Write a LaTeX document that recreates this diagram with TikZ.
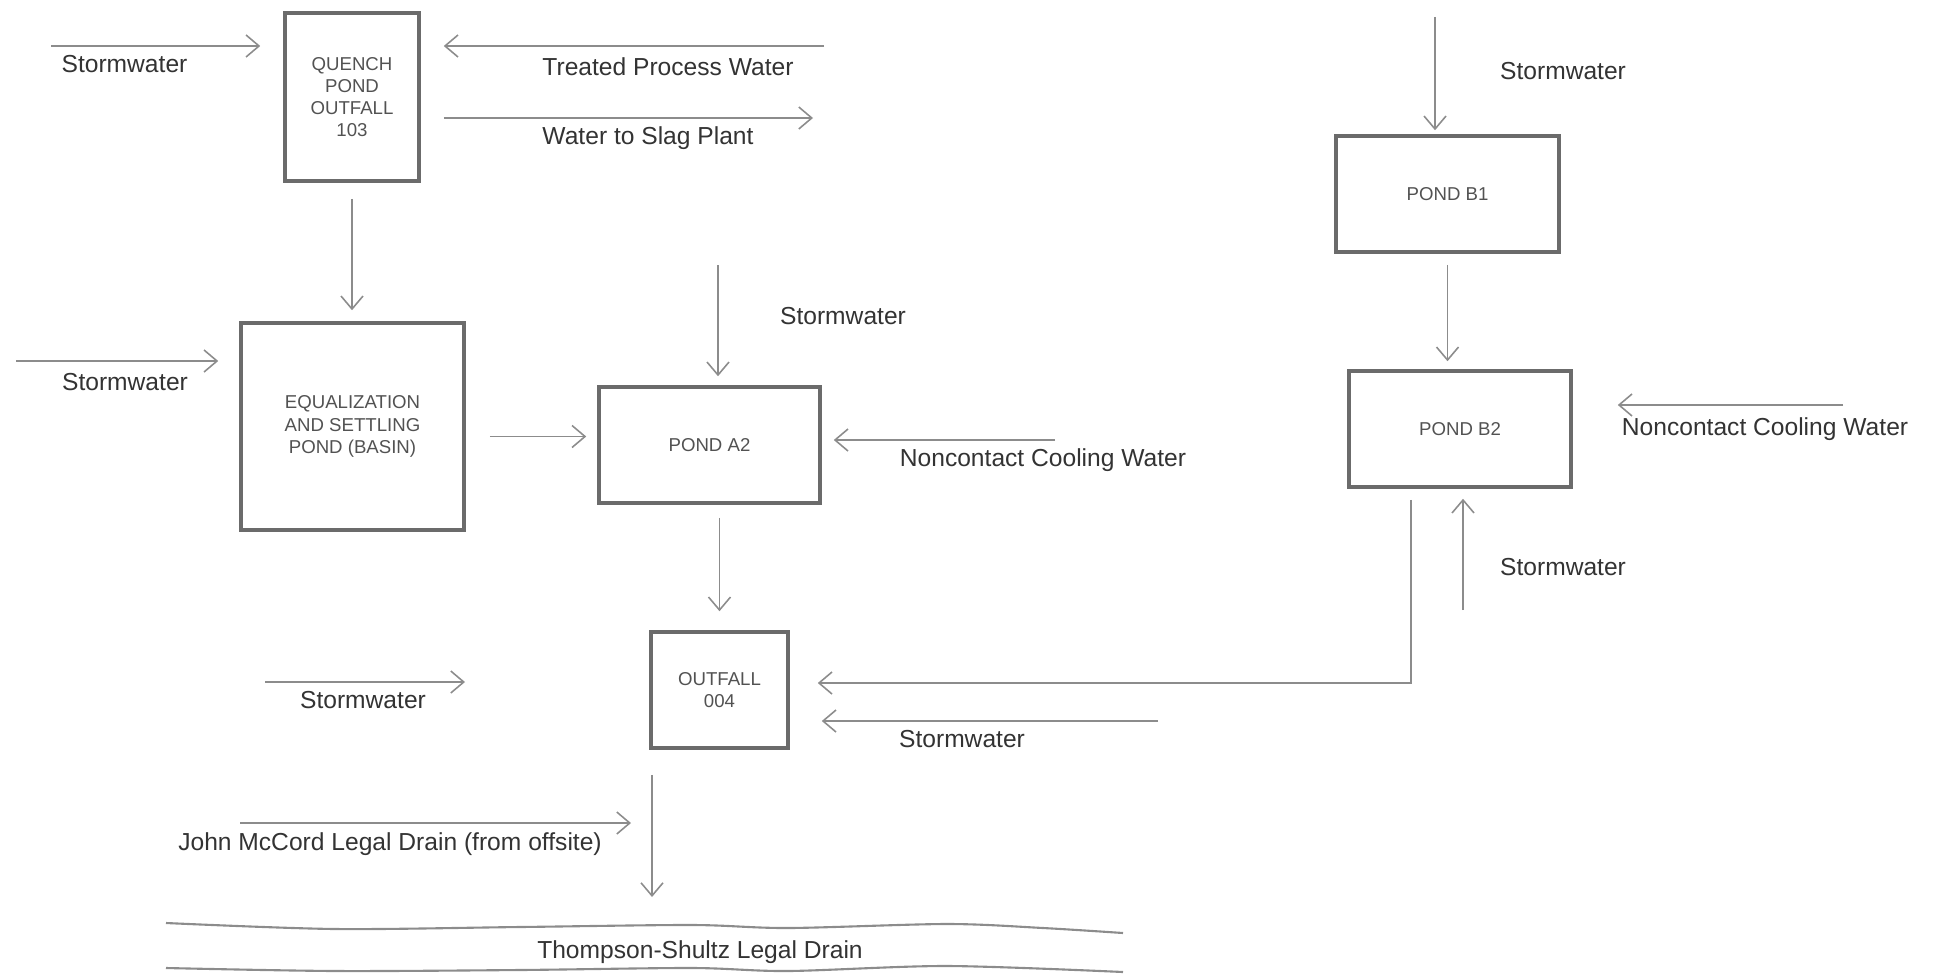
\documentclass[tikz,border=0pt]{standalone}
\usepackage{fontspec}
\setmainfont{Liberation Sans}
\usetikzlibrary{arrows.meta}
\definecolor{flowgray}{gray}{0.55}
\definecolor{boxgray}{gray}{0.42}
\definecolor{labelgray}{gray}{0.2}
\tikzset{
  pond/.style={draw=boxgray,line width=1pt,align=center,text=labelgray!85,font=\fontsize{5.3}{6.3}\selectfont,inner sep=0pt},
  flow/.style={->,draw=flowgray,line width=0.45pt},
  lbl/.style={text=labelgray,font=\fontsize{7}{8}\selectfont,inner sep=0pt,anchor=base},
  drainline/.style={draw=flowgray,line width=0.6pt}
}
\begin{document}
\begin{tikzpicture}[>={Straight Barb[length=1.3mm,width=2.2mm]}]
    \useasboundingbox (0,0) rectangle (19.35,-9.79);

    % ponds and outfalls
    \node[pond,minimum width=1.34cm,minimum height=1.68cm] (qp) at (3.52,-0.97) {QUENCH\\POND\\OUTFALL\\103};
    \node[pond,minimum width=2.23cm,minimum height=2.07cm] (eq) at (3.525,-4.265) {EQUALIZATION\\AND SETTLING\\POND (BASIN)};
    \node[pond,minimum width=2.21cm,minimum height=1.16cm] (a2) at (7.095,-4.45) {POND A2};
    \node[pond,minimum width=1.37cm,minimum height=1.16cm] (out) at (7.195,-6.90) {OUTFALL\\004};
    \node[pond,minimum width=2.23cm,minimum height=1.16cm] (b1) at (14.475,-1.94) {POND B1};
    \node[pond,minimum width=2.22cm,minimum height=1.16cm] (b2) at (14.60,-4.29) {POND B2};

    % free ends of the inflows
    \coordinate (sw1) at (0.51,-0.46);
    \coordinate (tpw) at (8.24,-0.46);
    \coordinate (slag) at (8.13,-1.18);
    \coordinate (sw2) at (0.16,-3.61);
    \coordinate (sw3) at (7.18,-2.65);
    \coordinate (ncw1) at (10.55,-4.40);
    \coordinate (sw4a) at (2.65,-6.82);
    \coordinate (sw4b) at (4.65,-6.82);
    \coordinate (sw5) at (11.58,-7.21);
    \coordinate (jmc1) at (2.40,-8.23);
    \coordinate (jmc2) at (6.31,-8.23);
    \coordinate (drn) at (6.52,-8.97);
    \coordinate (sw6) at (14.35,-0.17);
    \coordinate (ncw2) at (18.43,-4.05);
    \coordinate (sw7) at (14.63,-6.10);

    \draw[flow,shorten >=2.3mm] (sw1) -- (sw1 -| qp.west);
    \draw[flow,shorten >=2.3mm] (tpw) -- (tpw -| qp.east);
    \draw[flow,shorten <=2.3mm] (slag -| qp.east) -- (slag);
    \draw[flow,shorten <=1.6mm,shorten >=1.1mm] (qp.south) -- (qp.south |- eq.north);
    \draw[flow,shorten >=2.1mm] (sw2) -- (sw2 -| eq.west);
    \draw[flow,shorten <=2.4mm,shorten >=1.1mm] ([yshift=-1mm]eq.east) -- ([yshift=-1mm]eq.east -| a2.west);
    \draw[flow,shorten >=0.9mm] (sw3) -- (sw3 |- a2.north);
    \draw[flow,shorten >=1.2mm] (ncw1) -- (ncw1 -| a2.east);
    \draw[flow,shorten <=1.3mm,shorten >=1.9mm] (out.north |- a2.south) -- (out.north);
    \draw[flow] (sw4a) -- (sw4b);
    \draw[flow,shorten <=1.1mm,shorten >=2.8mm] ([xshift=-4.9mm]b2.south) |- ([yshift=0.7mm]out.east);
    \draw[flow,shorten >=3.2mm] (sw5) -- (sw5 -| out.east);
    \draw[flow,shorten <=2.5mm] (drn |- out.south) -- (drn);
    \draw[flow] (jmc1) -- (jmc2);
    \draw[flow,shorten >=0.4mm] (sw6) -- (sw6 |- b1.north);
    \draw[flow,shorten <=1.1mm,shorten >=0.8mm] (b1.south) -- (b1.south |- b2.north);
    \draw[flow,shorten >=4.5mm] (ncw2) -- (ncw2 -| b2.east);
    \draw[flow,shorten >=1mm] (sw7) -- (sw7 |- b2.south);

    % labels
    \foreach \x/\y [count=\i] in {1.245/-0.73,1.25/-3.90,8.43/-3.24,3.63/-7.08,9.62/-7.47,15.63/-0.80,15.63/-5.75}
      \node[lbl] (lsw\i) at (\x,\y) {Stormwater};
    \node[lbl] (ltpw) at (6.68,-0.76) {Treated Process Water};
    \node[lbl] (lslag) at (6.48,-1.45) {Water to Slag Plant};
    \node[lbl] (lncw1) at (10.43,-4.66) {Noncontact Cooling Water};
    \node[lbl] (lncw2) at (17.65,-4.35) {Noncontact Cooling Water};
    \node[lbl] (ljmc) at (3.90,-8.50) {John McCord Legal Drain (from offsite)};

    % legal drain
    \draw[drainline] plot[smooth] coordinates {(1.66,-9.23) (3.35,-9.29) (5.20,-9.27) (6.92,-9.25) (7.88,-9.28) (9.47,-9.24) (10.43,-9.28) (11.23,-9.33)};
    \draw[drainline] plot[smooth] coordinates {(1.66,-9.68) (3.35,-9.71) (5.20,-9.70) (6.92,-9.68) (7.88,-9.71) (9.47,-9.66) (11.23,-9.72)};
    \node[lbl] (ldrain) at (7.00,-9.58) {Thompson-Shultz Legal Drain};

  \end{tikzpicture}
\end{document}
